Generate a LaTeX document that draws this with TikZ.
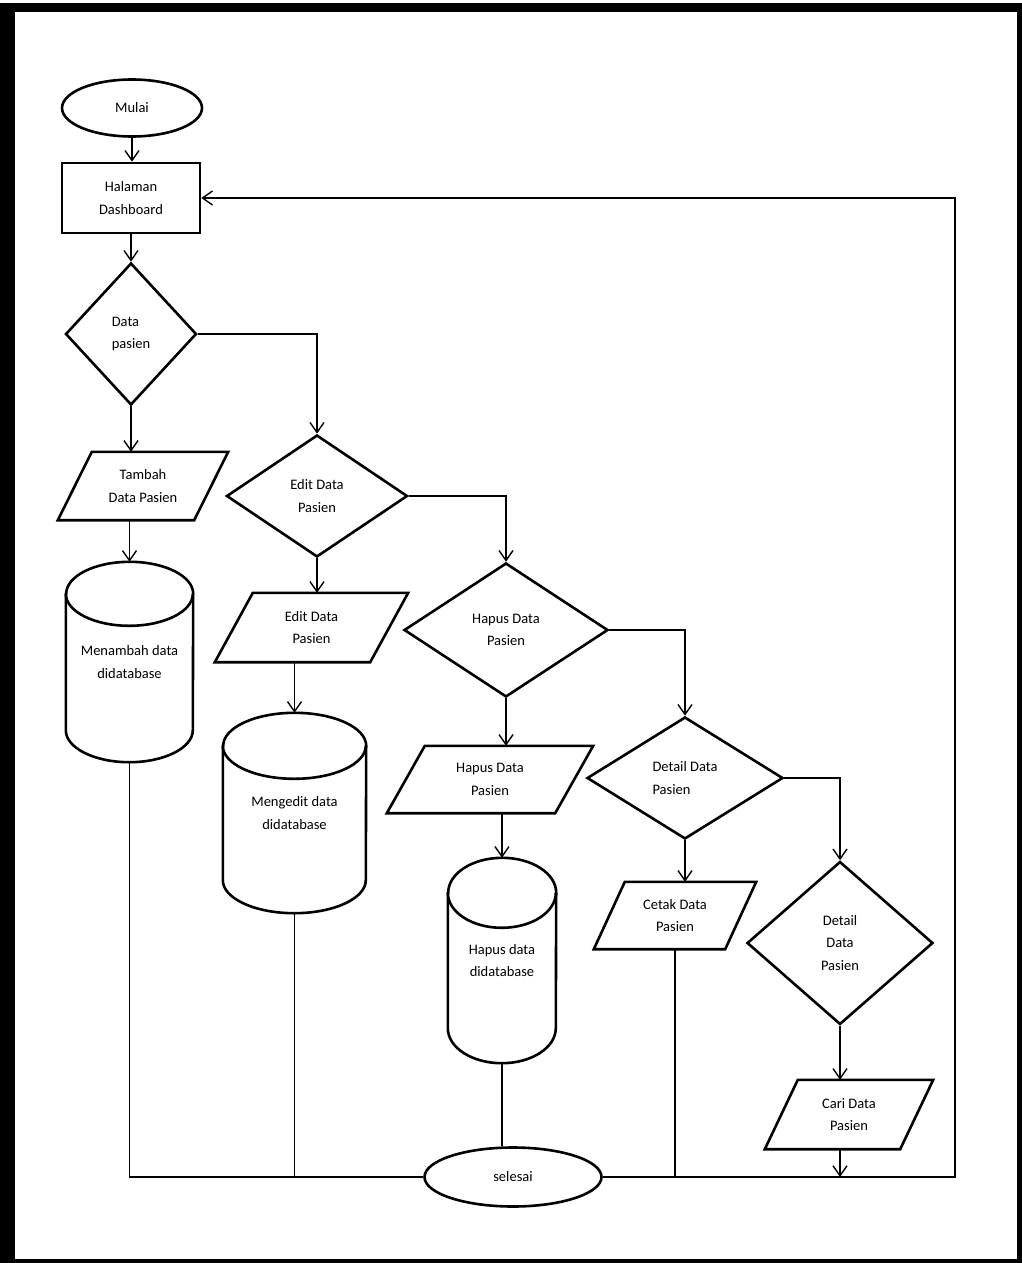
\documentclass[tikz,border=0pt]{standalone}
\usepackage{fontspec}
\setmainfont{Carlito}
\usetikzlibrary{shapes.geometric,arrows.meta,calc}
\newcommand\drawpara[2]{%
  \draw[shp, line join=miter] ([xshift=#2]#1.north west) -- (#1.north east) -- ([xshift=-#2]#1.south east) -- (#1.south west) -- cycle;}
\newcommand\drawcyl[3]{%
  \draw[shp] ([yshift=-#3]#1.north west) -- ([yshift=#3]#1.south west)
     arc[start angle=180,end angle=360,x radius=#2,y radius=#3]
     -- ([yshift=-#3]#1.north east)
     arc[start angle=0,end angle=180,x radius=#2,y radius=#3] -- cycle;
  \draw[shp] ([yshift=-#3]#1.north west) arc[start angle=180,end angle=360,x radius=#2,y radius=#3];}
\begin{document}
\begin{tikzpicture}[x=1pt,y=1pt,
  shp/.style={draw=black, line width=2.6pt},
  conn/.style={draw=black, line width=1.3pt},
  arr/.style={conn, -{Straight Barb[length=10pt,width=14pt,line width=1.4pt]}},
  txt/.style={font=\fontsize{14.5}{22.5}\selectfont, align=center, text=black},
  term/.style={shp, txt, ellipse, inner sep=0pt},
  procbox/.style={shp, txt, rectangle, inner sep=0pt},
  decis/.style={shp, txt, diamond, inner sep=0pt},
  iobox/.style={txt, rectangle, inner sep=0pt},
  dbbox/.style={txt, rectangle, inner sep=0pt},
]
\useasboundingbox (0,0) rectangle (1022,-1263);
\fill[white] (0,0) rectangle (1022,-1263);
\fill[black] (0,-3) rectangle (1022,-1263);
\fill[white] (15,-12) rectangle (1017,-1259);

% nodes
\node[term, minimum width=140pt, minimum height=57pt] (mulai) at (132,-108) {Mulai};
\node[procbox, minimum width=138pt, minimum height=70pt] (halaman) at (131,-198) {Halaman\\Dashboard};
\node[decis, minimum width=131pt, minimum height=142pt, align=left] (dp) at (131,-334) {Data\\pasien};
\node[iobox, minimum width=170pt, minimum height=68pt] (tambah) at (143,-486) {Tambah\\Data Pasien};
\node[dbbox, minimum width=127pt, minimum height=200pt] (menambah) at (129.5,-662) {Menambah data\\didatabase};
\node[decis, minimum width=181pt, minimum height=122pt] (editd) at (317,-496) {Edit Data\\Pasien};
\node[iobox, minimum width=193pt, minimum height=69pt] (editp) at (311.5,-627.5) {Edit Data\\Pasien};
\node[dbbox, minimum width=143pt, minimum height=200pt] (mengedit) at (294.5,-813) {Mengedit data\\didatabase};
\node[decis, minimum width=204pt, minimum height=134pt] (hapusd) at (506,-630) {Hapus Data\\Pasien};
\node[iobox, minimum width=206pt, minimum height=67pt] (hapusp) at (490,-779.5) {Hapus Data\\Pasien};
\node[dbbox, minimum width=108pt, minimum height=205pt] (hapusc) at (502,-960.5) {Hapus data\\didatabase};
\node[decis, minimum width=196pt, minimum height=122pt, align=left] (detail1) at (685,-778) {Detail Data\\Pasien};
\node[iobox, minimum width=162pt, minimum height=67pt] (cetak) at (675,-915.5) {Cetak Data\\Pasien};
\node[decis, minimum width=186pt, minimum height=163pt] (detail2) at (840,-943) {Detail\\Data\\Pasien};
\node[iobox, minimum width=168pt, minimum height=69pt] (cari) at (849,-1114.5) {Cari Data\\Pasien};
\node[term, minimum width=177pt, minimum height=59pt] (selesai) at (513,-1177) {selesai};

% custom outlines
\drawpara{tambah}{34pt}
\drawpara{editp}{38pt}
\drawpara{hapusp}{38pt}
\drawpara{cetak}{31pt}
\drawpara{cari}{33pt}
\drawcyl{menambah}{63.5pt}{32pt}
\drawcyl{mengedit}{71.5pt}{33pt}
\drawcyl{hapusc}{54pt}{35pt}

% connectors
\draw[arr] (mulai.south) -- (mulai.south |- halaman.north);
\draw[arr] (halaman.south) -- (halaman.south |- dp.north);
\draw[arr] (dp.east) -| (editd.north);
\draw[arr] (dp.south) -- (dp.south |- tambah.north);
\draw[arr] (menambah.north |- tambah.south) -- (menambah.north);
\draw[arr] (editd.south) -- (editd.south |- editp.north);
\draw[arr] (mengedit.north |- editp.south) -- (mengedit.north);
\draw[arr] (editd.east) -| (hapusd.north);
\draw[arr] (hapusd.south) -- (hapusd.south |- hapusp.north);
\draw[arr] (hapusc.north |- hapusp.south) -- (hapusc.north);
\draw[arr] (hapusd.east) -| (detail1.north);
\draw[arr] (detail1.south) -- (detail1.south |- cetak.north);
\draw[arr] (detail1.east) -| (detail2.north);
\draw[arr] (detail2.south) -- (detail2.south |- cari.north);
\draw[arr] (detail2.south |- cari.south) -- (detail2.south |- selesai.east);

\coordinate (loop) at (955,-1177);
\draw[conn] (menambah.south) |- (selesai.west);
\draw[conn] (mengedit.south) -- (mengedit.south |- selesai.west);
\draw[conn] (hapusc.south) -- (hapusc.south |- selesai.north);
\draw[conn] (cetak.south) -- (cetak.south |- selesai.east);
\draw[arr] (selesai.east) -- (loop) |- (halaman.east);
\end{tikzpicture}
\end{document}
